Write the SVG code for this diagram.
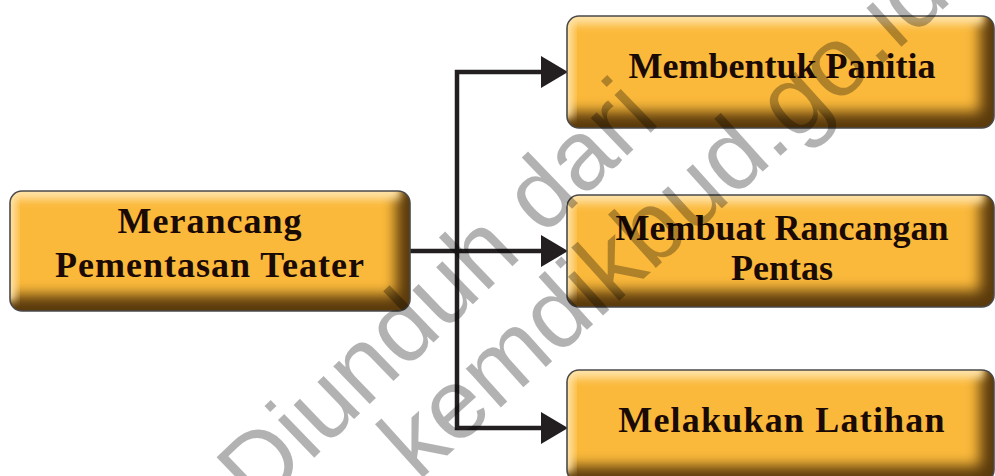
<svg xmlns="http://www.w3.org/2000/svg" width="995" height="476" viewBox="0 0 995 476">
<defs>
<style>
.base{fill:#5a3a0c}
.core{fill:#fbb93a;filter:url(#blur)}
.hl{fill:#ffe3a8;filter:url(#blur2)}
.frame{fill:none;stroke:#4a4a4a;stroke-width:1.6}
.lbl{font-family:"Liberation Serif","Times New Roman",serif;font-weight:bold;font-size:36px;fill:#1a0a06;text-anchor:middle}
.wire{fill:none;stroke:#231f20;stroke-width:4.5;stroke-linejoin:miter}
.wm{font-family:"Liberation Sans",Arial,sans-serif;font-size:99px;fill:#000;fill-opacity:0.3}
</style>
<filter id="blur" x="-20%" y="-20%" width="140%" height="140%"><feGaussianBlur stdDeviation="7"/></filter>
<filter id="blur2" x="-20%" y="-50%" width="140%" height="200%"><feGaussianBlur stdDeviation="4"/></filter>
<clipPath id="clipL"><rect x="0" y="0" width="400" height="120" rx="12"/></clipPath>
<clipPath id="clipR"><rect x="0" y="0" width="427" height="112" rx="12"/></clipPath>
<marker id="arr" markerUnits="userSpaceOnUse" markerWidth="28" markerHeight="32" refX="0" refY="16" orient="auto-start-reverse" overflow="visible">
<path d="M0,0 L27,16 L0,32 Z" fill="#231f20"/>
</marker>
</defs>
<rect width="995" height="476" fill="#fff"/>

<g id="connectors">
<path class="wire" d="M541,72 H457 V428 H541" marker-start="url(#arr)" marker-end="url(#arr)"/>
<path class="wire" d="M410,251 H541" marker-end="url(#arr)"/>
</g>

<g id="node-merancang" transform="translate(10,191)">
<rect class="base" width="400" height="120" rx="12"/>
<g clip-path="url(#clipL)">
<rect class="core" x="-20" y="-20" width="406" height="124"/>
<rect class="hl" x="-10" y="-10" width="400" height="18"/>
<rect class="hl" x="-10" y="-10" width="16" height="120"/>
</g>
<rect class="frame" width="400" height="120" rx="12"/>
<text class="lbl" x="200" y="42" letter-spacing="1">Merancang</text>
<text class="lbl" x="200" y="86" letter-spacing="1">Pementasan Teater</text>
</g>

<g id="node-panitia" transform="translate(567,16)">
<rect class="base" width="427" height="112" rx="12"/>
<g clip-path="url(#clipR)">
<rect class="core" x="-20" y="-20" width="433" height="116"/>
<rect class="hl" x="-10" y="-10" width="427" height="18"/>
<rect class="hl" x="-10" y="-10" width="16" height="112"/>
</g>
<rect class="frame" width="427" height="112" rx="12"/>
<text class="lbl" x="215" y="62">Membentuk Panitia</text>
</g>

<g id="node-rancangan" transform="translate(567,195)">
<rect class="base" width="427" height="112" rx="12"/>
<g clip-path="url(#clipR)">
<rect class="core" x="-20" y="-20" width="433" height="116"/>
<rect class="hl" x="-10" y="-10" width="427" height="18"/>
<rect class="hl" x="-10" y="-10" width="16" height="112"/>
</g>
<rect class="frame" width="427" height="112" rx="12"/>
<text class="lbl" x="215" y="45">Membuat Rancangan</text>
<text class="lbl" x="215" y="85">Pentas</text>
</g>

<g id="node-latihan" transform="translate(567,370)">
<rect class="base" width="427" height="112" rx="12"/>
<g clip-path="url(#clipR)">
<rect class="core" x="-20" y="-20" width="433" height="116"/>
<rect class="hl" x="-10" y="-10" width="427" height="18"/>
<rect class="hl" x="-10" y="-10" width="16" height="112"/>
</g>
<rect class="frame" width="427" height="112" rx="12"/>
<text class="lbl" x="215" y="62" letter-spacing="1.2">Melakukan Latihan</text>
</g>

<g id="watermark">
<text class="wm" transform="translate(258,512) rotate(-44)">Diunduh dari</text>
<text class="wm" transform="translate(418,482) rotate(-42)">kemdikbud.go.id</text>
</g>
</svg>
